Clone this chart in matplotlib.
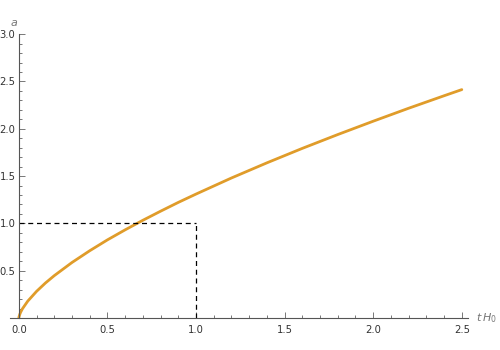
import matplotlib
matplotlib.use('Agg')
import matplotlib.pyplot as plt
from matplotlib.ticker import MultipleLocator

# scale factor
t_vals = [0.0, 0.001, 0.005, 0.01, 0.02, 0.05, 0.1, 0.15, 0.2, 0.3, 0.4,
          0.5, 0.6, 0.7, 0.8, 0.9, 1.0, 1.2, 1.4, 1.6, 1.8, 2.0, 2.2,
          2.4, 2.5]
a_vals = [0.0, 0.013, 0.038, 0.061, 0.097, 0.178, 0.282, 0.370, 0.448,
          0.587, 0.711, 0.826, 0.932, 1.033, 1.129, 1.222, 1.310, 1.480,
          1.640, 1.793, 1.939, 2.080, 2.217, 2.349, 2.414]

ref_t = 1.0
ref_a = 1.0

fig = plt.figure(figsize=(5, 3.5), dpi=100, facecolor='white')
ax = fig.add_axes([0.02, 0.0914, 0.916, 0.811])

ax.plot(t_vals, a_vals, color='#E09C2A', linewidth=2.0, solid_capstyle='round')
ax.plot([0, ref_t], [ref_a, ref_a], color='black', linestyle=(0, (4, 3)), linewidth=0.9)
ax.plot([ref_t, ref_t], [0, ref_a], color='black', linestyle=(0, (4, 3)), linewidth=0.9)

ax.set_xlim(-0.05, 2.535)
ax.set_ylim(0, 3.0)

ax.spines['left'].set_position(('data', 0))
ax.spines['bottom'].set_position(('data', 0))
ax.spines['top'].set_visible(False)
ax.spines['right'].set_visible(False)
for s in ('left', 'bottom'):
    ax.spines[s].set_color('#555555')
    ax.spines[s].set_linewidth(0.8)

ax.xaxis.set_minor_locator(MultipleLocator(0.1))
ax.yaxis.set_minor_locator(MultipleLocator(0.1))
ax.set_yticks([0.5, 1.0, 1.5, 2.0, 2.5, 3.0])
ax.set_xticks([0.0, 0.5, 1.0, 1.5, 2.0, 2.5])
ax.xaxis.set_major_formatter(lambda v, p: f'{v:.1f}')
ax.yaxis.set_major_formatter(lambda v, p: f'{v:.1f}')

ax.tick_params(which='both', direction='in', color='#777777', labelsize=7.2,
               labelcolor='#333333', width=0.7)
ax.tick_params(which='major', length=4)
ax.tick_params(which='minor', length=2)
ax.tick_params(axis='x', which='major', pad=5)
ax.tick_params(axis='y', which='major', pad=2.5)

ax.text(-0.01, 3.06, 'a', fontsize=8, color='#777777', style='italic',
        ha='right', va='bottom')
ax.text(2.58, 0.0, r'$t\,H_0$', fontsize=8, color='#777777',
        ha='left', va='center', clip_on=False)

fig.savefig('out.png', dpi=100, facecolor='white')
